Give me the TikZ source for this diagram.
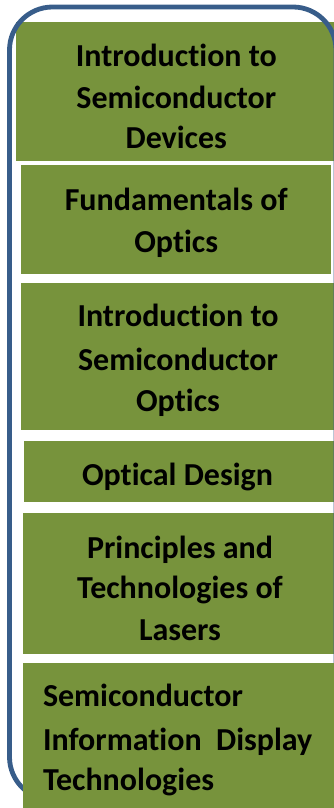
\documentclass[tikz,border=0pt]{standalone}
\usepackage{fontspec}
\setmainfont{Carlito}[Ligatures=NoCommon]
\usetikzlibrary{fit}
\definecolor{boxgreen}{RGB}{119,147,60}
\definecolor{frameblue}{RGB}{56,93,138}
\tikzset{
  box/.style={rectangle, fill=boxgreen, draw=none, inner sep=0pt, outer sep=0pt},
  lbl/.style={inner sep=0pt, outer sep=0pt, font=\fontsize{32}{41}\selectfont\bfseries, text=black},
  frame/.style={draw=frameblue, line width=4.8pt, rounded corners=43pt}
}
\begin{document}
\begin{tikzpicture}[x=1pt,y=-1pt]
\useasboundingbox (0,0) rectangle (333,808);
% boxes
\node[box, fit={(16,22) (340,160.7)}] (b1) {};
\node[box, fit={(21,165) (331,273.5)}] (b2) {};
\node[box, fit={(21,282.7) (340,430)}] (b3) {};
\node[box, fit={(24,441) (340,501.7)}] (b4) {};
\node[box, fit={(23,513.3) (340,654)}] (b5) {};
% frame
\draw[frame] (9.5,7) rectangle (336,800);
\node[box, fit={(23,663.3) (340,815)}] (b6) {};
% texts
\node[lbl, anchor=base] (t11) at (176.3,66.7) {Introduction to};
\node[lbl, anchor=base] (t12) at (176.3,108.3) {Semiconductor};
\node[lbl, anchor=base] (t13) at (176.3,148.3) {Devices};
\node[lbl, anchor=base] (t21) at (176.2,210) {Fundamentals of};
\node[lbl, anchor=base] (t22) at (176.2,252) {Optics};
\node[lbl, anchor=base] (t31) at (178,326.7) {Introduction to};
\node[lbl, anchor=base] (t32) at (178,370) {Semiconductor};
\node[lbl, anchor=base] (t33) at (178,411.7) {Optics};
\node[lbl, anchor=base] (t41) at (177.5,485) {Optical Design};
\node[lbl, anchor=base] (t51) at (180,558.3) {Principles and};
\node[lbl, anchor=base] (t52) at (180,598.3) {Technologies of};
\node[lbl, anchor=base] (t53) at (180,640) {Lasers};
\node[lbl, anchor=base west] (t61) at (43,706.7) {Semiconductor};
\node[lbl, anchor=base west] (t62) at (43,750) {Information\ \ Display};
\node[lbl, anchor=base west] (t63) at (43,790) {Technologies};
\end{tikzpicture}
\end{document}
